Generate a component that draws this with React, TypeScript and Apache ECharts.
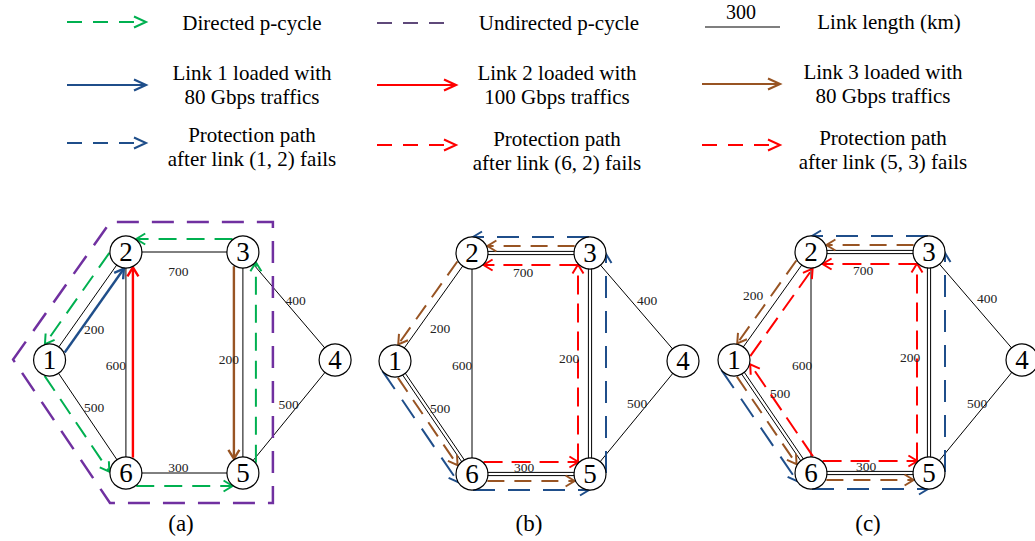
import React, { useEffect, useRef } from 'react';
import * as echarts from 'echarts';

// ------------------------------------------------------------------ data
const nodeNames = ['1', '2', '3', '4', '5', '6'];
// node layout (abstract units, y up)
const nodeX = [0, 77, 195, 288, 195, 77];
const nodeY = [0, 108, 108, 0, -113, -113];
// links and their lengths (km)
const linkFrom = [1, 2, 3, 4, 5, 6, 2, 3];
const linkTo = [2, 3, 4, 5, 6, 1, 6, 5];
const linkKm = [200, 700, 400, 500, 300, 500, 600, 200];
const panelNames = ['(a)', '(b)', '(c)'];

// panel (a)
const directedPCycle = [3, 2, 1, 6, 5, 3];
const undirectedPCycle = [1, 2, 3, 5, 6];
const link1Route = [1, 2];
const link2Route = [6, 2];
const link3Route = [3, 5];
// panels (b) and (c)
const protectionAfter12 = [1, 6, 5, 3, 2];
const protectionAfter53 = [3, 2, 1, 6, 5];
const protectionAfter62 = [6, 5, 3, 2];
const protectionAfter62Extra = [6, 1, 2];
const doubledLinks = [[2, 3], [3, 5], [5, 6], [6, 1]];

// legend texts
const legendTexts = [
  'Directed p-cycle',
  'Undirected p-cycle',
  'Link length (km)',
  'Link 1 loaded with\n80 Gbps traffics',
  'Link 2 loaded with\n100 Gbps traffics',
  'Link 3 loaded with\n80 Gbps traffics',
  'Protection path\nafter link (1, 2) fails',
  'Protection path\nafter link (6, 2) fails',
  'Protection path\nafter link (5, 3) fails',
];
const legendSampleKm = '300';

// ------------------------------------------------------------------ layout & styles
const SERIF = 'Liberation Serif, Times New Roman, serif';
const R = 16;
const PANEL_ORIGIN = [
  [47, 360],
  [395, 361],
  [734, 360],
];
const GREEN = '#00B050';
const PURPLE = '#7030A0';
const PURPLE_LEGEND = '#5F497A';
const BLUE = '#1F4E8A';
const RED = '#FF0000';
const BROWN = '#985423';

const ROUTE_STYLE: Record<string, { color: string; dash: number[] | null; offset: number; width: number }> = {
  green: { color: GREEN, dash: [18, 10], offset: 13, width: 2 },
  blueSolid: { color: BLUE, dash: null, offset: -8, width: 2.4 },
  redSolid: { color: RED, dash: null, offset: -7, width: 2.4 },
  brownSolid: { color: BROWN, dash: null, offset: -9, width: 2.4 },
  blueDash: { color: BLUE, dash: [22, 13], offset: 16, width: 2 },
  brownDash: { color: BROWN, dash: [17, 10], offset: 7, width: 2 },
  redDash: { color: RED, dash: [19, 9], offset: -12, width: 2 },
  redDash2: { color: RED, dash: [19, 9], offset: -11, width: 2 },
};

const PANEL_ROUTES = [
  [
    { route: directedPCycle, style: 'green' },
    { route: link1Route, style: 'blueSolid' },
    { route: link2Route, style: 'redSolid' },
    { route: link3Route, style: 'brownSolid' },
  ],
  [
    { route: protectionAfter12, style: 'blueDash' },
    { route: protectionAfter53, style: 'brownDash' },
    { route: protectionAfter62, style: 'redDash' },
  ],
  [
    { route: protectionAfter12, style: 'blueDash' },
    { route: protectionAfter53, style: 'brownDash' },
    { route: protectionAfter62, style: 'redDash' },
    { route: protectionAfter62Extra, style: 'redDash2' },
  ],
];
const PANEL_HAS_UNDIRECTED = [true, false, false];
const PANEL_HAS_DOUBLED = [false, true, true];

// link-length label offsets (px from link midpoint), per panel, link order as above
const LABEL_OFFSET = [
  [[6.5, 23], [-6, 19], [6.5, -6], [-0.5, -12.5], [-6, -6], [6.5, -9.5], [-10, 2.5], [-14, -3.5]],
  [[6.5, 21], [-8, 19], [10.5, -7], [0.5, -14.5], [-7, -7], [6.5, -9.5], [-10, 1.5], [-21, -5.5]],
  [[-19.5, -11], [-7, 18], [11.5, -8], [1.5, -13.5], [-4, -7], [7.5, -23.5], [-9, 2.5], [-19, -5.5]],
];

// centroid of the ring, used to decide "outward"
const ringCX = undirectedPCycle.reduce((s, n) => s + nodeX[n - 1], 0) / undirectedPCycle.length;
const ringCY = undirectedPCycle.reduce((s, n) => s + nodeY[n - 1], 0) / undirectedPCycle.length;

function outwardNormal(p: number[], q: number[], c: number[]) {
  const dx = q[0] - p[0];
  const dy = q[1] - p[1];
  const len = Math.hypot(dx, dy);
  const ux = dx / len;
  const uy = dy / len;
  let nx = -uy;
  let ny = ux;
  const mx = (p[0] + q[0]) / 2 - c[0];
  const my = (p[1] + q[1]) / 2 - c[1];
  if (nx * mx + ny * my < 0) {
    nx = -nx;
    ny = -ny;
  }
  return { ux, uy, nx, ny, len };
}

function chevron(tip: number[], ux: number, uy: number, L: number, W: number) {
  const bx = tip[0] - ux * L;
  const by = tip[1] - uy * L;
  const nx = -uy;
  const ny = ux;
  return [
    [bx + nx * W, by + ny * W],
    [tip[0], tip[1]],
    [bx - nx * W, by - ny * W],
  ];
}

function buildSeries(p: number) {
  const series: any[] = [];
  const axis = { xAxisIndex: p, yAxisIndex: p, coordinateSystem: 'cartesian2d' };

  // black links
  series.push({
    type: 'custom',
    ...axis,
    silent: true,
    z: 1,
    data: linkFrom.map((f, i) => [nodeX[f - 1], nodeY[f - 1], nodeX[linkTo[i] - 1], nodeY[linkTo[i] - 1]]),
    encode: { x: [0, 2], y: [1, 3] },
    renderItem: (params: any, api: any) => {
      const i = params.dataIndex;
      const a = api.coord([api.value(0), api.value(1)]);
      const b = api.coord([api.value(2), api.value(3)]);
      const c = api.coord([ringCX, ringCY]);
      const f = linkFrom[i];
      const t = linkTo[i];
      const dbl =
        PANEL_HAS_DOUBLED[p] &&
        doubledLinks.some((d) => (d[0] === f && d[1] === t) || (d[0] === t && d[1] === f));
      const offs = dbl ? [-1.6, 1.6] : [0];
      const g = outwardNormal(a, b, c);
      return {
        type: 'group',
        children: offs.map((o) => ({
          type: 'line',
          shape: { x1: a[0] + g.nx * o, y1: a[1] + g.ny * o, x2: b[0] + g.nx * o, y2: b[1] + g.ny * o },
          style: { stroke: '#000', lineWidth: 1, fill: 'none' },
        })),
      };
    },
  });

  // undirected p-cycle polygon
  if (PANEL_HAS_UNDIRECTED[p]) {
    series.push({
      type: 'custom',
      ...axis,
      silent: true,
      z: 2,
      data: [[ringCX, ringCY]],
      encode: { x: 0, y: 1 },
      renderItem: (params: any, api: any) => {
        const c = api.coord([api.value(0), api.value(1)]);
        const pts = undirectedPCycle.map((n) => api.coord([nodeX[n - 1], nodeY[n - 1]]));
        const d = 30;
        const k = pts.length;
        const normals = pts.map((pt, i) => outwardNormal(pt, pts[(i + 1) % k], c));
        const verts = pts.map((pt, i) => {
          const n0 = normals[(i - 1 + k) % k];
          const n1 = normals[i];
          let mx = n0.nx + n1.nx;
          let my = n0.ny + n1.ny;
          const ml = Math.hypot(mx, my);
          mx /= ml;
          my /= ml;
          const l = d / (mx * n1.nx + my * n1.ny);
          return [pt[0] + mx * l, pt[1] + my * l];
        });
        return {
          type: 'polygon',
          shape: { points: verts },
          style: { stroke: PURPLE, lineWidth: 2.5, fill: 'none', lineDash: [22, 13] },
        };
      },
    });
  }

  // routes
  const segs: { u: number; v: number; style: string }[] = [];
  PANEL_ROUTES[p].forEach((r) => {
    for (let i = 0; i < r.route.length - 1; i++) segs.push({ u: r.route[i], v: r.route[i + 1], style: r.style });
  });
  series.push({
    type: 'custom',
    ...axis,
    silent: true,
    z: 3,
    data: segs.map((s) => [nodeX[s.u - 1], nodeY[s.u - 1], nodeX[s.v - 1], nodeY[s.v - 1]]),
    encode: { x: [0, 2], y: [1, 3] },
    renderItem: (params: any, api: any) => {
      const s = segs[params.dataIndex];
      const st = ROUTE_STYLE[s.style];
      const a = api.coord([api.value(0), api.value(1)]);
      const b = api.coord([api.value(2), api.value(3)]);
      const c = api.coord([ringCX, ringCY]);
      const g = outwardNormal(a, b, c);
      const trim = Math.sqrt(Math.max(0, R * R - st.offset * st.offset)) + 1;
      const s0 = [a[0] + g.nx * st.offset + g.ux * trim, a[1] + g.ny * st.offset + g.uy * trim];
      const s1 = [b[0] + g.nx * st.offset - g.ux * trim, b[1] + g.ny * st.offset - g.uy * trim];
      return {
        type: 'group',
        children: [
          {
            type: 'line',
            shape: { x1: s0[0], y1: s0[1], x2: s1[0] - g.ux, y2: s1[1] - g.uy },
            style: {
              stroke: st.color,
              lineWidth: st.width,
              fill: 'none',
              lineDash: st.dash,
            },
          },
          {
            type: 'polyline',
            shape: { points: chevron(s1, g.ux, g.uy, 9, 5.5) },
            style: { stroke: st.color, lineWidth: st.width, fill: 'none' },
          },
        ],
      };
    },
  });

  // link-length labels
  series.push({
    type: 'custom',
    ...axis,
    silent: true,
    z: 4,
    data: linkFrom.map((f, i) => [
      (nodeX[f - 1] + nodeX[linkTo[i] - 1]) / 2,
      (nodeY[f - 1] + nodeY[linkTo[i] - 1]) / 2,
      linkKm[i],
    ]),
    encode: { x: 0, y: 1 },
    renderItem: (params: any, api: any) => {
      const i = params.dataIndex;
      const m = api.coord([api.value(0), api.value(1)]);
      const o = LABEL_OFFSET[p][i];
      return {
        type: 'text',
        x: m[0] + o[0],
        y: m[1] + o[1],
        style: {
          text: String(api.value(2)),
          fill: '#222222',
          fontSize: 13.5,
          fontFamily: SERIF,
          align: 'center',
          verticalAlign: 'middle',
        },
      };
    },
  });

  // nodes
  series.push({
    type: 'scatter',
    xAxisIndex: p,
    yAxisIndex: p,
    silent: true,
    z: 5,
    symbol: 'circle',
    symbolSize: 2 * R,
    itemStyle: { color: '#fff', borderColor: '#000', borderWidth: 1.2, opacity: 1 },
    label: {
      show: true,
      position: 'inside',
      formatter: (prm: any) => nodeNames[prm.dataIndex],
      fontSize: 27,
      fontFamily: SERIF,
      color: '#000',
    },
    emphasis: { disabled: true },
    data: nodeX.map((x, i) => [x, nodeY[i]]),
  });
  return series;
}

// legend graphics
function legendArrow(x1: number, x2: number, y: number, color: string, dashed: boolean, arrow: boolean, width = 2) {
  const els: any[] = [
    {
      type: 'line',
      shape: { x1, y1: y, x2: arrow ? x2 - 1 : x2, y2: y },
      style: { stroke: color, lineWidth: width, fill: 'none', lineDash: dashed ? [15, 11] : null },
    },
  ];
  if (arrow) {
    els.push({
      type: 'polyline',
      shape: { points: chevron([x2, y], 1, 0, 12, 5.5) },
      style: { stroke: color, lineWidth: width, fill: 'none' },
    });
  }
  return els;
}

function legendText(text: string, x: number, y: number, size = 21) {
  return {
    type: 'text',
    x,
    y,
    style: {
      text,
      fill: '#000',
      fontSize: size,
      fontFamily: SERIF,
      align: 'center',
      verticalAlign: 'middle',
      textAlign: 'center',
      textVerticalAlign: 'middle',
      lineHeight: 24.5,
    },
  };
}

export default function App() {
  const ref = useRef<HTMLDivElement>(null);
  useEffect(() => {
    if (!ref.current) return;
    const chart = echarts.init(ref.current, null, { renderer: 'svg' });
    const grids = PANEL_ORIGIN.map(([ox, oy]) => ({ left: ox - 50, top: oy - 140, width: 350, height: 280 }));
    const xAxes = PANEL_ORIGIN.map((_, i) => ({ type: 'value', gridIndex: i, min: -50, max: 300, show: false }));
    const yAxes = PANEL_ORIGIN.map((_, i) => ({ type: 'value', gridIndex: i, min: -140, max: 140, show: false }));
    const series = [0, 1, 2].flatMap((p) => buildSeries(p));

    const graphic: any[] = [
      ...legendArrow(67, 146, 22, GREEN, true, true),
      ...legendArrow(377, 455, 23, PURPLE_LEGEND, true, false, 2.2),
      ...legendArrow(705, 780, 27, '#000', false, false, 1.2),
      ...legendArrow(67, 146, 85, BLUE, false, true, 2.2),
      ...legendArrow(377, 456, 85, RED, false, true, 2.2),
      ...legendArrow(702, 780, 84, BROWN, false, true, 2.2),
      ...legendArrow(67, 146, 143, BLUE, true, true),
      ...legendArrow(377, 456, 145, RED, true, true),
      ...legendArrow(702, 780, 145, RED, true, true),
      legendText(legendSampleKm, 741, 12, 20),
      legendText(legendTexts[0], 252, 23),
      legendText(legendTexts[1], 559, 23),
      legendText(legendTexts[2], 889, 22),
      legendText(legendTexts[3], 252, 85),
      legendText(legendTexts[4], 557, 85),
      legendText(legendTexts[5], 883, 84),
      legendText(legendTexts[6], 252, 147),
      legendText(legendTexts[7], 557, 151),
      legendText(legendTexts[8], 883, 150),
      ...PANEL_ORIGIN.map(([ox], i) => legendText(panelNames[i], ox + 134, 523, 23)),
    ];

    chart.setOption({
      animation: false,
      backgroundColor: '#fff',
      grid: grids,
      xAxis: xAxes,
      yAxis: yAxes,
      series,
      graphic,
    });
    return () => chart.dispose();
  }, []);
  return (
    <div
      ref={ref}
      style={{ position: 'fixed', left: 0, top: 0, width: 1035, height: 541, background: '#fff' }}
    />
  );
}
